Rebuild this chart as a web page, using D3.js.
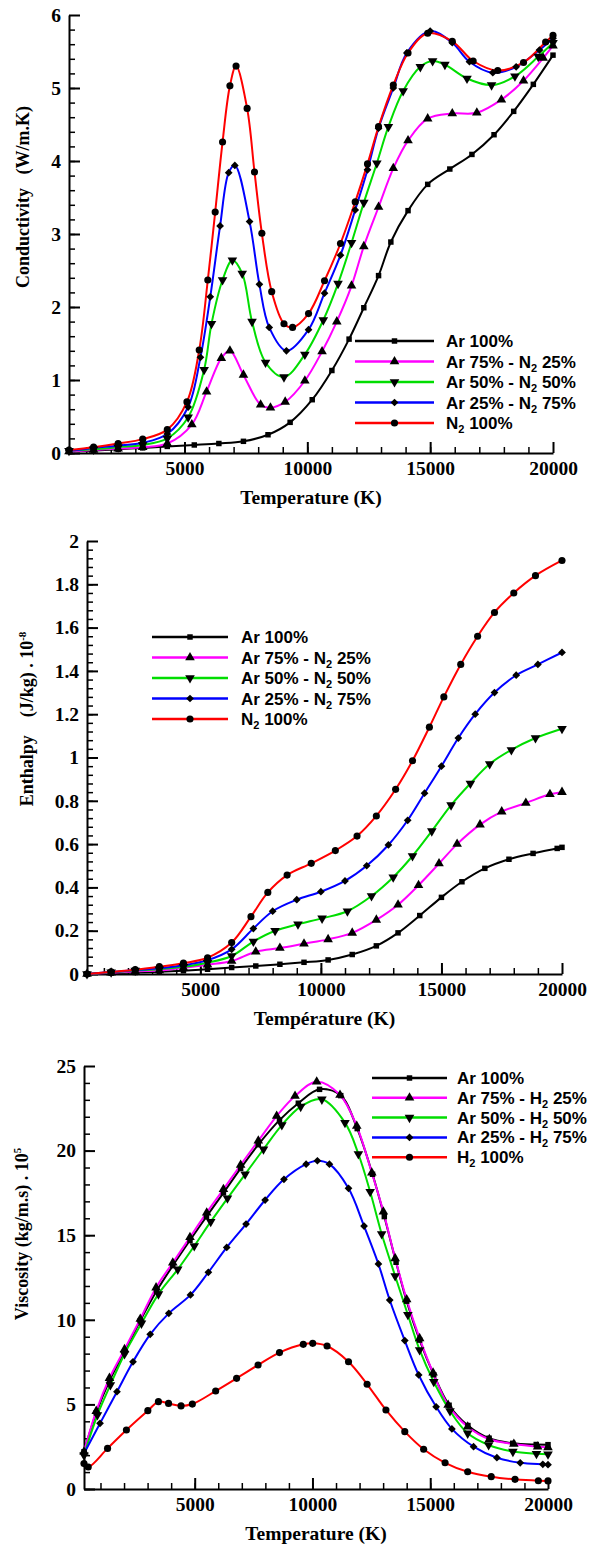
<!DOCTYPE html>
<html>
<head>
<meta charset="utf-8">
<script src="https://cdn.jsdelivr.net/npm/d3@7"></script>
<style>
body { margin: 0; background: #fff; }
</style>
</head>
<body>
<div id="chart"></div>
<script>
// ---- conductivity (W/m.K), Ar-N2 ----
const condAr100 = [[300,0.02],[1300,0.03],[2300,0.05],[3300,0.07],[4300,0.09],[5400,0.11],[6400,0.13],[7400,0.16],[8400,0.25],[9300,0.42],[10200,0.73],[11000,1.13],[11700,1.56],[12300,1.99],[12900,2.43],[13400,2.89],[14100,3.32],[14900,3.68],[15800,3.89],[16700,4.09],[17600,4.36],[18400,4.68],[19200,5.05],[20000,5.45]];
const condAr75 = [[300,0.02],[1300,0.04],[2300,0.06],[3300,0.08],[4300,0.13],[5300,0.39],[5900,0.84],[6500,1.30],[6850,1.40],[7400,1.07],[8100,0.66],[8500,0.62],[9100,0.70],[9900,0.99],[10600,1.39],[11200,1.80],[11800,2.29],[12300,2.83],[12900,3.37],[13500,3.90],[14100,4.28],[14900,4.58],[15900,4.65],[16900,4.66],[17900,4.84],[18800,5.10],[19600,5.41],[20000,5.58]];
const condAr50 = [[300,0.03],[1300,0.05],[2300,0.08],[3300,0.11],[4300,0.20],[5150,0.49],[5800,1.14],[6100,1.77],[6550,2.37],[6950,2.64],[7350,2.46],[7750,1.80],[8300,1.24],[9050,1.04],[9900,1.35],[10650,1.82],[11250,2.32],[11800,2.88],[12300,3.43],[12830,3.97],[13300,4.47],[13900,4.96],[14600,5.29],[15100,5.37],[15600,5.32],[16500,5.13],[17500,5.04],[18450,5.16],[19400,5.43],[20000,5.62]];
const condAr25 = [[300,0.03],[1300,0.07],[2300,0.10],[3300,0.14],[4300,0.26],[5150,0.63],[5650,1.31],[6050,2.14],[6450,3.11],[6800,3.84],[7050,3.94],[7650,3.17],[8050,2.31],[8450,1.72],[9150,1.40],[10050,1.69],[10700,2.19],[11350,2.71],[11950,3.33],[12450,3.88],[12900,4.45],[13500,5.00],[14050,5.48],[15000,5.78],[15900,5.62],[16600,5.36],[17550,5.21],[18500,5.29],[19450,5.52],[20000,5.68]];
const condN2 = [[300,0.04],[1300,0.08],[2300,0.13],[3300,0.19],[4300,0.32],[5100,0.70],[5600,1.41],[5950,2.37],[6250,3.30],[6550,4.26],[6850,5.03],[7100,5.30],[7550,4.72],[7850,3.85],[8150,3.01],[8550,2.21],[9050,1.77],[9400,1.72],[10050,1.91],[10700,2.36],[11350,2.87],[11950,3.44],[12450,3.96],[12900,4.47],[13500,5.04],[14100,5.48],[14900,5.75],[15900,5.64],[16750,5.37],[17750,5.24],[18800,5.35],[19700,5.63],[20000,5.72]];

// ---- enthalpy (J/kg . 10^-8), Ar-N2 ----
const enthAr100 = [[300,0],[1300,0.004],[2300,0.007],[3300,0.01],[4300,0.015],[5300,0.022],[6300,0.03],[7300,0.037],[8300,0.045],[9300,0.054],[10300,0.065],[11300,0.09],[12300,0.13],[13200,0.19],[14100,0.27],[15000,0.354],[15850,0.426],[16800,0.488],[17800,0.53],[18800,0.557],[19800,0.58],[20000,0.585]];
const enthAr75 = [[300,0],[1300,0.006],[2300,0.012],[3300,0.016],[4300,0.028],[5300,0.043],[6300,0.06],[7300,0.103],[8300,0.12],[9300,0.14],[10300,0.16],[11300,0.19],[12300,0.25],[13200,0.32],[14050,0.41],[14900,0.51],[15650,0.60],[16600,0.69],[17500,0.75],[18500,0.79],[19500,0.83],[20000,0.84]];
const enthAr50 = [[300,0],[1300,0.008],[2300,0.016],[3300,0.022],[4300,0.033],[5300,0.052],[6300,0.083],[7200,0.15],[8100,0.20],[9050,0.23],[10050,0.257],[11100,0.29],[12100,0.36],[13000,0.447],[13800,0.545],[14600,0.66],[15400,0.78],[16200,0.88],[17000,0.97],[17900,1.035],[18900,1.09],[20000,1.133]];
const enthAr25 = [[300,0],[1300,0.009],[2300,0.018],[3300,0.026],[4300,0.04],[5300,0.064],[6300,0.114],[7200,0.21],[8000,0.29],[9000,0.343],[10000,0.38],[11000,0.43],[11900,0.50],[12800,0.596],[13600,0.71],[14300,0.835],[15000,0.96],[15700,1.09],[16400,1.20],[17200,1.30],[18100,1.38],[19000,1.43],[20000,1.485]];
const enthN2 = [[300,0],[1300,0.01],[2300,0.02],[3300,0.034],[4300,0.05],[5300,0.075],[6300,0.145],[7100,0.265],[7800,0.377],[8600,0.457],[9600,0.511],[10600,0.57],[11500,0.637],[12300,0.73],[13100,0.853],[13800,0.985],[14500,1.14],[15100,1.28],[15800,1.43],[16500,1.56],[17200,1.67],[18000,1.76],[18900,1.84],[20000,1.91]];

// ---- viscosity (kg/m.s . 10^5), Ar-H2 ----
const viscAr100 = [[300,2.2],[820,4.5],[1380,6.4],[2020,8.1],[2690,9.95],[3380,11.7],[4070,13.2],[4800,14.7],[5500,16.1],[6220,17.5],[6950,18.95],[7700,20.35],[8600,21.8],[9400,22.8],[10300,23.62],[11200,23.25],[11900,21.3],[12550,18.6],[13050,16.1],[13550,13.4],[14000,11.1],[14550,8.8],[15150,6.75],[15800,4.95],[16600,3.75],[17500,3.0],[18500,2.7],[19500,2.63],[20000,2.62]];
const viscAr75 = [[300,2.2],[820,4.6],[1380,6.55],[2020,8.25],[2690,10.05],[3360,11.9],[4070,13.37],[4800,14.88],[5510,16.33],[6220,17.71],[6950,19.15],[7700,20.58],[8480,22.04],[9260,23.23],[10180,24.07],[11170,23.29],[11880,21.45],[12520,18.69],[13010,16.39],[13510,13.63],[14000,11.2],[14550,8.9],[15120,6.87],[15760,4.96],[16590,3.68],[17510,2.94],[18550,2.66],[19560,2.5],[20000,2.46]];
const viscAr50 = [[300,2.0],[870,4.37],[1420,6.15],[2020,7.98],[2740,9.79],[3460,11.52],[4280,12.98],[4980,14.36],[5680,15.8],[6390,17.18],[7140,18.6],[7920,20.08],[8700,21.51],[9500,22.6],[10400,23.03],[11380,21.65],[11950,19.8],[12450,17.57],[12940,15.07],[13510,12.59],[14050,10.3],[14550,8.22],[15150,6.34],[15840,4.61],[16590,3.29],[17480,2.6],[18510,2.21],[19510,2.08],[20000,2.05]];
const viscAr25 = [[300,2.1],[980,3.88],[1700,5.75],[2380,7.52],[3110,9.14],[3900,10.38],[4820,11.47],[5580,12.81],[6360,14.28],[7180,15.66],[7990,17.08],[8790,18.3],[9730,19.2],[10210,19.4],[10720,19.2],[11530,17.77],[12190,15.54],[12800,13.3],[13280,11.17],[13920,8.77],[14510,6.74],[15250,4.86],[15920,3.55],[16840,2.5],[17830,1.85],[18820,1.55],[19780,1.46],[20000,1.44]];
const viscH2 = [[300,1.5],[480,1.3],[1300,2.4],[2100,3.49],[3010,4.63],[3460,5.16],[3890,5.06],[4420,4.91],[4900,5.02],[5890,5.79],[6780,6.54],[7690,7.33],[8600,8.06],[9610,8.55],[10010,8.61],[10620,8.45],[11530,7.52],[12320,6.19],[13120,4.67],[13920,3.39],[14720,2.35],[15630,1.55],[16590,1.02],[17590,0.73],[18600,0.57],[19590,0.49],[20000,0.48]];

const xTicks = [5000, 10000, 15000, 20000];
const n2Labels = ['Ar 100%', 'Ar 75% - N_2 25%', 'Ar 50% - N_2 50%', 'Ar 25% - N_2 75%', 'N_2 100%'];
const h2Labels = ['Ar 100%', 'Ar 75% - H_2 25%', 'Ar 50% - H_2 50%', 'Ar 25% - H_2 75%', 'H_2 100%'];

const colors = ['#000000', '#ff00ff', '#00dd00', '#0000ff', '#ff0000'];
const symbols = [
  { type: d3.symbolSquare, size: 30, rot: 0 },
  { type: d3.symbolTriangle, size: 40, rot: 0 },
  { type: d3.symbolTriangle, size: 40, rot: 180 },
  { type: d3.symbolSquare, size: 30, rot: 45 },
  { type: d3.symbolCircle, size: 40, rot: 0 }
];

const serif = '"Liberation Serif", "Times New Roman", serif';
const sans = '"Liberation Sans", Arial, sans-serif';

const svg = d3.select('#chart').append('svg')
  .attr('width', 590)
  .attr('height', 1544)
  .style('background', 'white');

function fmt(d) { return String(+d.toFixed(2)); }

function drawPanel(p) {
  const x = d3.scaleLinear().domain([300, 20000]).range(p.xr);
  const y = d3.scaleLinear().domain(p.yd).range(p.yr);
  const g = svg.append('g');

  // minor ticks
  g.append('g')
    .attr('transform', `translate(0,${p.yr[0]})`)
    .call(d3.axisBottom(x).tickValues(d3.range(1000, 20000, 1000)).tickSize(-6).tickFormat(''))
    .call(a => a.select('.domain').remove())
    .selectAll('line').attr('stroke-width', 1.5);
  g.append('g')
    .attr('transform', `translate(${p.xr[0]},0)`)
    .call(d3.axisLeft(y).tickValues(d3.range(p.yd[0], p.yd[1], p.minor)).tickSize(-6).tickFormat(''))
    .call(a => a.select('.domain').remove())
    .selectAll('line').attr('stroke-width', 1.5);

  // major axes
  const xa = g.append('g')
    .attr('transform', `translate(0,${p.yr[0]})`)
    .call(d3.axisBottom(x).tickValues(xTicks).tickFormat(d3.format('d')).tickSizeInner(-11).tickSizeOuter(0).tickPadding(8));
  const ya = g.append('g')
    .attr('transform', `translate(${p.xr[0]},0)`)
    .call(d3.axisLeft(y).tickValues(p.yticks).tickSizeInner(-11).tickSizeOuter(0).tickPadding(8).tickFormat(fmt));
  [xa, ya].forEach(a => {
    a.attr('font-family', serif).attr('font-size', 19.5).attr('font-weight', 'bold');
    a.select('.domain').attr('stroke-width', 2);
    a.selectAll('line').attr('stroke-width', 2);
  });

  // x title
  g.append('text')
    .attr('x', (p.xr[0] + p.xr[1]) / 2)
    .attr('y', p.yr[0] + 51)
    .attr('text-anchor', 'middle')
    .attr('font-family', serif).attr('font-size', 19.5).attr('font-weight', 'bold')
    .text(p.xlabel);

  // y title
  const yt = g.append('text')
    .attr('transform', `translate(${p.ylx},${p.yly}) rotate(-90)`)
    .attr('text-anchor', 'middle')
    .attr('font-family', serif).attr('font-size', 18).attr('font-weight', 'bold')
    .style('white-space', 'pre');
  yt.append('tspan').text(p.ylabel);
  if (p.ysup) yt.append('tspan').attr('dy', -7).attr('font-size', 11).text(p.ysup);

  // curves
  const line = d3.line()
    .x(d => x(d[0]))
    .y(d => y(d[1]))
    .curve(d3.curveCatmullRom.alpha(0.5));
  p.series.forEach((s, i) => {
    g.append('path').datum(s)
      .attr('fill', 'none')
      .attr('stroke', colors[i])
      .attr('stroke-width', 2)
      .attr('d', line);
  });
  p.series.forEach((s, i) => {
    const sym = symbols[i];
    g.append('g').selectAll('path').data(s).join('path')
      .attr('transform', d => `translate(${x(d[0])},${y(d[1])}) rotate(${sym.rot})`)
      .attr('d', d3.symbol(sym.type, sym.size))
      .attr('fill', '#000');
  });

  // legend
  const lg = g.append('g');
  p.labels.forEach((lab, i) => {
    const ry = p.leg.y + i * p.leg.dy;
    lg.append('line')
      .attr('x1', p.leg.x0).attr('x2', p.leg.x1)
      .attr('y1', ry).attr('y2', ry)
      .attr('stroke', colors[i]).attr('stroke-width', 2.5);
    const sym = symbols[i];
    lg.append('path')
      .attr('transform', `translate(${(p.leg.x0 + p.leg.x1) / 2},${ry}) rotate(${sym.rot})`)
      .attr('d', d3.symbol(sym.type, sym.size))
      .attr('fill', '#000');
    const t = lg.append('text')
      .attr('x', p.leg.tx).attr('y', ry + 6)
      .attr('font-family', sans).attr('font-size', 17).attr('font-weight', 'bold')
      .style('white-space', 'pre');
    const parts = lab.split('_2');
    parts.forEach((part, k) => {
      if (k > 0) t.append('tspan').attr('dy', 4).attr('font-size', 11).text('2');
      t.append('tspan').attr('dy', k > 0 ? -4 : null).text(part);
    });
  });
}

drawPanel({
  xr: [69, 553], yd: [0, 6], yr: [453, 15],
  yticks: d3.range(0, 7, 1), minor: 0.2,
  xlabel: 'Temperature (K)',
  ylabel: 'Conductivity   (W/m.K)', ylx: 29, yly: 197,
  series: [condAr100, condAr75, condAr50, condAr25, condN2],
  labels: n2Labels,
  leg: { x0: 355, x1: 434, tx: 446, y: 341, dy: 20.5 }
});

drawPanel({
  xr: [87, 562], yd: [0, 2], yr: [974, 541],
  yticks: d3.range(0, 2.01, 0.2), minor: 0.04,
  xlabel: 'Température (K)',
  ylabel: 'Enthalpy    (J/kg) . 10', ysup: '-8', ylx: 33, yly: 719,
  series: [enthAr100, enthAr75, enthAr50, enthAr25, enthN2],
  labels: n2Labels,
  leg: { x0: 152, x1: 228, tx: 241, y: 637, dy: 20.5 }
});

drawPanel({
  xr: [84, 548], yd: [0, 25], yr: [1489, 1066],
  yticks: d3.range(0, 26, 5), minor: 1,
  xlabel: 'Temperature (K)',
  ylabel: 'Viscosity (kg/m.s) . 10', ysup: '5', ylx: 28, yly: 1234,
  series: [viscAr100, viscAr75, viscAr50, viscAr25, viscH2],
  labels: h2Labels,
  leg: { x0: 372, x1: 447, tx: 457, y: 1078, dy: 19.8 }
});
</script>
</body>
</html>
